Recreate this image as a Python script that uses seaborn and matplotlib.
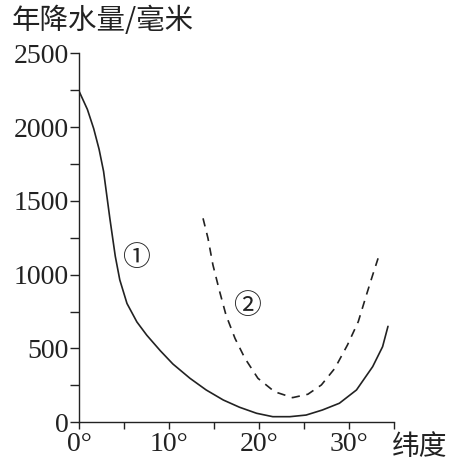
import matplotlib
matplotlib.use("Agg")
import matplotlib.pyplot as plt
import numpy as np
import pandas as pd
import seaborn as sns

# 曲线①（实线）
lat1 = [0, 0.9, 1.6, 2.2, 2.7, 3.4, 4.0, 4.5, 5.3, 6.4, 7.5, 9.0, 10.4, 12.3, 14.1,
        16.0, 17.8, 19.7, 21.5, 23.4, 25.2, 27.0, 28.9, 30.8, 32.6, 33.7, 34.3]
rain1 = [2240, 2120, 1990, 1850, 1700, 1380, 1125, 965, 805, 680, 590, 485, 395, 298, 219,
         151, 102, 61, 38, 38, 49, 83, 129, 219, 377, 512, 650]
# 曲线②（虚线）
lat2 = [13.75, 14.3, 14.85, 15.6, 16.3, 17.3, 18.4, 19.85, 21.7, 23.7, 25.4, 26.9,
        28.4, 29.8, 31.0, 31.9, 32.6, 33.2]
rain2 = [1382, 1247, 1066, 885, 727, 569, 434, 298, 207, 167, 190, 253,
         366, 524, 682, 862, 998, 1111]

x_ticks = [0, 5, 10, 15, 20, 25, 30, 35]
x_labels = ["0°", "", "10°", "", "20°", "", "30°", ""]
y_ticks = [0, 250, 500, 750, 1000, 1250, 1500, 1750, 2000, 2250, 2500]
y_labels = ["0", "", "500", "", "1000", "", "1500", "", "2000", "", "2500"]

sns.set_style("ticks")
plt.rcParams["font.family"] = ["Liberation Serif", "Noto Sans CJK SC", "DejaVu Sans"]

ink = "#222222"
df1 = pd.DataFrame({"lat": lat1, "rain": rain1})
df2 = pd.DataFrame({"lat": lat2, "rain": rain2})

fig = plt.figure(figsize=(4.52, 4.66), dpi=100)
ax = fig.add_axes([0.1754, 0.0938, 0.8723 - 0.1754, 0.8856 - 0.0938])

sns.lineplot(data=df1, x="lat", y="rain", ax=ax, color=ink, linewidth=1.2, sort=False)
sns.lineplot(data=df2, x="lat", y="rain", ax=ax, color=ink, linewidth=1.2,
             sort=False, linestyle=(0, (5, 4)))

ax.set_xlim(0, 35)
ax.set_ylim(0, 2500)
ax.set_xticks(x_ticks)
ax.set_xticklabels(x_labels)
ax.set_yticks(y_ticks)
ax.set_yticklabels(y_labels)
ax.set_xlabel("")
ax.set_ylabel("")
ax.tick_params(axis="both", colors=ink, labelsize=20, width=1.0)
ax.tick_params(axis="y", length=6.5, pad=1)
ax.tick_params(axis="x", length=5, pad=2)
sns.despine(ax=ax)
for s in ["left", "bottom"]:
    ax.spines[s].set_color(ink)
    ax.spines[s].set_linewidth(1.0)

cjk = ["Noto Sans CJK SC", "DejaVu Sans"]
fig.text(12 / 452, 1 - 21 / 466, "年降水量/毫米", family=cjk, fontsize=20.5,
         color=ink, ha="left", va="center")
fig.text(392 / 452, 1 - 447 / 466, "纬度", family=cjk, fontsize=20,
         color=ink, ha="left", va="center")
ax.text(6.3, 1110, "①", family=cjk, fontsize=20, color=ink, ha="center", va="center")
ax.text(18.6, 790, "②", family=cjk, fontsize=20, color=ink, ha="center", va="center")

fig.savefig("out.png", dpi=100)
